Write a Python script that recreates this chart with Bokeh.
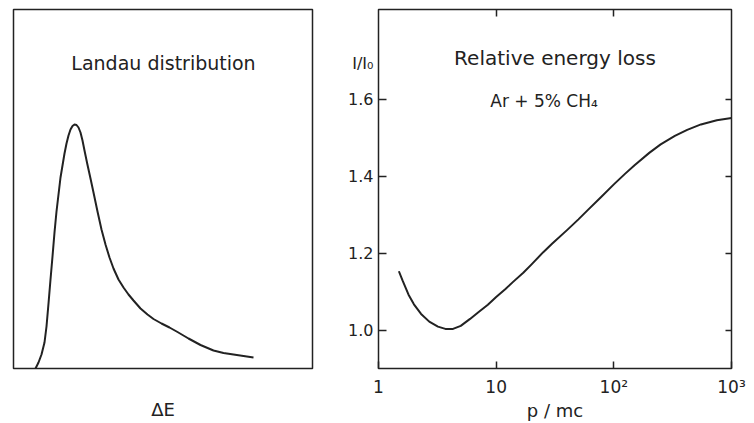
from bokeh.plotting import figure
from bokeh.models import (Range1d, FixedTicker, LinearAxis, LogAxis, Label)
from bokeh.layouts import row
from bokeh.embed import file_html
from bokeh.resources import INLINE

# ---- data: Landau distribution (arbitrary units) ----
landau_dE = [22, 25, 28, 31, 33, 35, 37, 39, 41, 43, 45, 47, 49, 51, 53, 55, 57, 59,
             61, 63, 65, 67, 69, 71, 73.7, 77, 80, 84, 88, 92, 96, 100, 105, 110, 115,
             120, 127, 134, 140, 148, 156, 164, 175, 187, 200, 210, 220, 230, 240]
landau_f = [0, 6, 14, 26, 42, 65, 89, 112, 136, 157, 174, 191, 203, 215, 225, 233, 239, 242.5,
            244, 243.5, 241, 236, 228, 218, 205, 190, 176, 157, 139, 124, 111, 100, 89, 81, 74,
            68, 60, 54, 49.5, 45, 41, 36.5, 30, 23.5, 18, 15.5, 14, 12.5, 11]

# ---- data: relative energy loss vs p/mc ----
p_mc = [1.49, 1.6, 1.8, 2.0, 2.3, 2.7, 3.2, 3.7, 4.3, 5.0, 6.0, 7.1, 8.5, 10, 12, 14, 17,
        20, 25, 30, 40, 50, 60, 78, 100, 125, 150, 200, 250, 330, 420, 550, 750, 1000]
rel_loss = [1.154, 1.130, 1.093, 1.068, 1.043, 1.023, 1.010, 1.004, 1.004, 1.012, 1.030,
            1.048, 1.067, 1.087, 1.108, 1.127, 1.150, 1.172, 1.203, 1.226, 1.261, 1.289,
            1.313, 1.347, 1.380, 1.408, 1.430, 1.462, 1.484, 1.506, 1.522, 1.536, 1.547, 1.553]

y_ticks = [1.0, 1.2, 1.4, 1.6]
y_title_pos = 1.694
y_tick_labels = {1.0: "1.0", 1.2: "1.2", 1.4: "1.4", 1.6: "1.6", y_title_pos: "I/I₀"}
x_ticks = [1, 10, 100, 1000]
x_tick_labels = {1: "1", 10: "10", 100: "10²", 1000: "10³"}

INK = "#222222"
FONT = "DejaVu Sans"

# ---------------- left panel ----------------
p1 = figure(width=341, height=423, output_backend="svg", toolbar_location=None,
            x_range=Range1d(0, 299), y_range=Range1d(0, 359),
            min_border_left=13, min_border_right=29, min_border_top=9, min_border_bottom=55)
p1.yaxis.visible = False
p1.grid.visible = False
p1.outline_line_color = INK
p1.outline_line_width = 1.5
xa1 = p1.xaxis[0]
xa1.ticker = FixedTicker(ticks=[], minor_ticks=[])
xa1.axis_line_color = None
xa1.major_tick_line_color = None
xa1.minor_tick_line_color = None
xa1.major_tick_out = 0
xa1.major_tick_in = 0
xa1.minor_tick_out = 0
xa1.minor_tick_in = 0
xa1.major_label_standoff = 0
xa1.axis_label = "ΔE"
xa1.axis_label_text_font = FONT
xa1.axis_label_text_font_size = "18px"
xa1.axis_label_text_font_style = "normal"
xa1.axis_label_text_color = INK
xa1.axis_label_standoff = 30

p1.line(landau_dE, landau_f, line_color=INK, line_width=2, line_join="round")
p1.add_layout(Label(x=150, y=306, text="Landau distribution", text_align="center",
                    text_baseline="middle", text_font=FONT, text_font_size="19px",
                    text_color=INK))

# ---------------- right panel ----------------
p2 = figure(width=413, height=423, output_backend="svg", toolbar_location=None,
            x_axis_type="log", x_range=Range1d(1, 1000), y_range=Range1d(0.901, 1.835),
            min_border_left=37, min_border_right=23, min_border_top=1, min_border_bottom=55)
p2.grid.visible = False
p2.outline_line_color = INK
p2.outline_line_width = 1.5

xa = p2.xaxis[0]
xa.ticker = FixedTicker(ticks=x_ticks, minor_ticks=[])
xa.major_label_overrides = x_tick_labels
xa.major_tick_in = 7
xa.major_tick_out = 0
xa.minor_tick_in = 0
xa.minor_tick_out = 0
xa.major_label_standoff = 8
xa.axis_line_color = None
xa.major_tick_line_color = INK
xa.major_tick_line_width = 1.5
xa.major_label_text_font = FONT
xa.major_label_text_font_size = "17px"
xa.major_label_text_color = INK
xa.axis_label = "p / mc"
xa.axis_label_text_font = FONT
xa.axis_label_text_font_size = "18px"
xa.axis_label_text_font_style = "normal"
xa.axis_label_text_color = INK
xa.axis_label_standoff = 0

# inner left axis: inward ticks only
ya = p2.yaxis[0]
ya.ticker = FixedTicker(ticks=y_ticks, minor_ticks=[])
ya.major_label_overrides = {t: "." for t in y_ticks}
ya.major_tick_in = 8
ya.major_tick_out = 0
ya.minor_tick_in = 0
ya.minor_tick_out = 0
ya.major_label_standoff = 0
ya.major_label_text_font_size = "1px"
ya.major_label_text_alpha = 0.0
ya.axis_line_color = None
ya.major_tick_line_color = INK
ya.major_tick_line_width = 1.5

# outer left axis: tick labels and the I/I0 title
label_axis = LinearAxis(ticker=FixedTicker(ticks=y_ticks + [y_title_pos], minor_ticks=[]),
                        major_label_overrides=y_tick_labels,
                        major_tick_in=0, major_tick_out=0, minor_tick_in=0, minor_tick_out=0,
                        major_tick_line_color=None, minor_tick_line_color=None,
                        axis_line_color=None, major_label_standoff=5,
                        major_label_text_font=FONT, major_label_text_font_size="16px",
                        major_label_text_color=INK)
p2.add_layout(label_axis, "left")

top_axis = LogAxis(ticker=FixedTicker(ticks=[10, 100], minor_ticks=[]),
                   major_label_overrides={10: ".", 100: "."},
                   major_tick_in=7, major_tick_out=0, minor_tick_in=0, minor_tick_out=0,
                   major_label_standoff=0, major_label_text_font_size="1px",
                   major_label_text_alpha=0.0,
                   axis_line_color=None, major_tick_line_color=INK, major_tick_line_width=1.5)
p2.add_layout(top_axis, "above")
right_axis = LinearAxis(ticker=FixedTicker(ticks=y_ticks, minor_ticks=[]),
                        major_label_overrides={t: "." for t in y_ticks},
                        major_tick_in=6, major_tick_out=0, minor_tick_in=0, minor_tick_out=0,
                        major_label_standoff=0, major_label_text_font_size="1px",
                        major_label_text_alpha=0.0,
                        axis_line_color=None, major_tick_line_color=INK, major_tick_line_width=1.5)
p2.add_layout(right_axis, "right")

p2.line(p_mc, rel_loss, line_color=INK, line_width=2, line_join="round")

p2.add_layout(Label(x=31.6, y=1.709, text="Relative energy loss", text_align="center",
                    text_baseline="middle", text_font=FONT, text_font_size="20px",
                    text_color=INK))
p2.add_layout(Label(x=25.5, y=1.597, text="Ar + 5% CH₄", text_align="center",
                    text_baseline="middle", text_font=FONT, text_font_size="17px",
                    text_color=INK))

layout = row(p1, p2, spacing=0)
open("out.html", "w").write(file_html(layout, INLINE))
